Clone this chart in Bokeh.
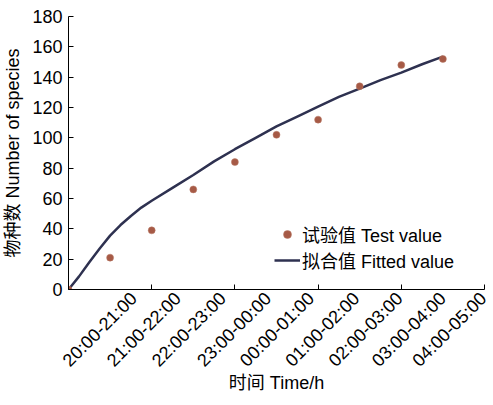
import math
from bokeh.plotting import figure
from bokeh.models import FixedTicker, Range1d, Legend, LegendItem
from bokeh.embed import file_html
from bokeh.resources import INLINE

# ---- data ----
test_x = [0, 1, 2, 3, 4, 5, 6, 7, 8, 9]
test_y = [0, 21, 39, 66, 84, 102, 112, 134, 148, 152]

fit_x = [0, 0.25, 0.5, 0.75, 1, 1.25, 1.5, 1.75, 2, 2.5, 3, 3.5, 4, 4.5, 5, 5.5, 6, 6.5,
         7, 7.5, 8, 8.5, 9]
fit_y = [0, 8.5, 18, 27, 35.5, 42.5, 48.5, 54, 58.5, 67, 75.5, 84.5, 92.5, 100, 107.5, 114,
         120.5, 127, 132.5, 138, 143, 148.5, 153.5]

time_labels = ["20:00-21:00", "21:00-22:00", "22:00-23:00", "23:00-00:00", "00:00-01:00",
               "01:00-02:00", "02:00-03:00", "03:00-04:00", "04:00-05:00"]
label_pos = [1.57, 2.63, 3.71, 4.8, 5.83, 6.92, 7.96, 9.0, 10.0]
frame_ticks = [0, 2, 4, 6, 8, 10]
y_ticks = [0, 20, 40, 60, 80, 100, 120, 140, 160, 180]

FONT = "Liberation Sans, Noto Sans CJK SC"
FS = "18px"

p = figure(frame_width=416, frame_height=273, output_backend="svg", toolbar_location=None,
           x_range=Range1d(0, 10), y_range=Range1d(0, 180),
           min_border_left=62, min_border_right=6, min_border_top=16, min_border_bottom=0)
p.outline_line_color = None
p.grid.visible = False
p.background_fill_color = "white"

# x axis
xa = p.xaxis[0]
xa.ticker = FixedTicker(ticks=label_pos, minor_ticks=frame_ticks)
xa.major_label_overrides = {pos: lab for pos, lab in zip(label_pos, time_labels)}
xa.major_label_orientation = math.pi / 4
xa.major_tick_in = 0
xa.major_tick_out = 0
xa.minor_tick_in = 5
xa.minor_tick_out = 0
xa.minor_tick_line_color = "black"
xa.axis_line_color = "black"
xa.major_label_text_font = FONT
xa.major_label_text_font_size = FS
xa.major_label_text_color = "black"
xa.major_label_standoff = 6
xa.axis_label = "时间 Time/h"
xa.axis_label_text_font = FONT
xa.axis_label_text_font_size = FS
xa.axis_label_text_font_style = "normal"
xa.axis_label_text_color = "black"
xa.axis_label_standoff = -8

# y axis
ya = p.yaxis[0]
ya.ticker = FixedTicker(ticks=y_ticks)
ya.major_tick_in = 5
ya.major_tick_out = 0
ya.minor_tick_line_color = None
ya.axis_line_color = "black"
ya.major_label_text_font = FONT
ya.major_label_text_font_size = FS
ya.major_label_text_color = "black"
ya.major_label_standoff = 6
ya.axis_label = "物种数 Number of species"
ya.axis_label_text_font = FONT
ya.axis_label_text_font_size = FS
ya.axis_label_text_font_style = "normal"
ya.axis_label_text_color = "black"
ya.axis_label_standoff = 6

line = p.line(fit_x, fit_y, line_color="#2e3150", line_width=2.5)
pts = p.scatter(test_x, test_y, size=7, fill_color="#a65a46", line_color="#b87a66", line_width=0.5)

legend = Legend(items=[LegendItem(label="试验值 Test value", renderers=[pts]),
                       LegendItem(label="拟合值 Fitted value", renderers=[line])],
                location=(206, 16))
legend.border_line_color = None
legend.background_fill_alpha = 0
legend.padding = 0
legend.margin = 0
legend.spacing = -1
legend.glyph_width = 26
legend.glyph_height = 20
legend.label_height = 20
legend.label_standoff = 2
legend.label_text_font = FONT
legend.label_text_font_size = FS
legend.label_text_color = "black"
p.add_layout(legend, "center")

open("out.html", "w").write(file_html(p, INLINE))
